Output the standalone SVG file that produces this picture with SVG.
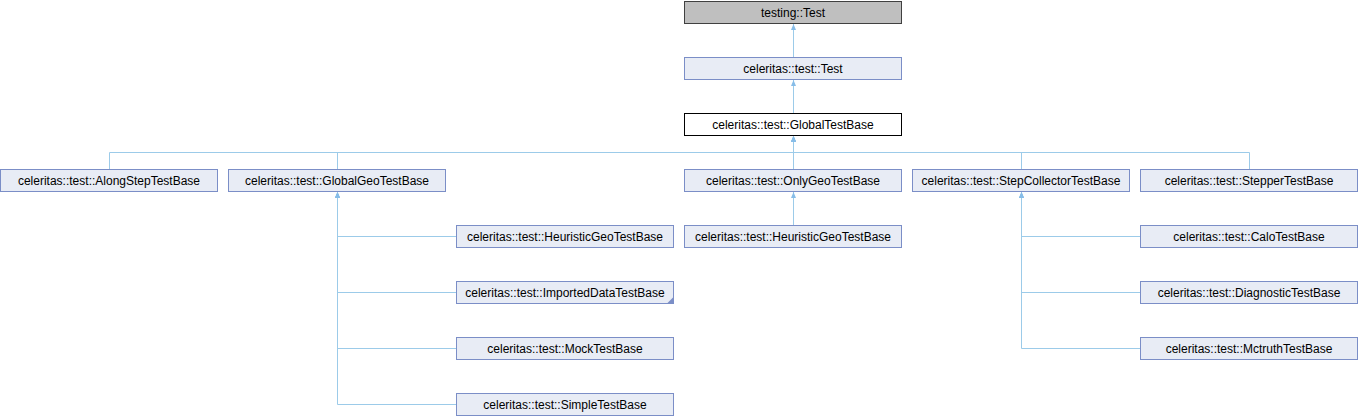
<svg xmlns="http://www.w3.org/2000/svg" width="1358" height="416" viewBox="0 0 1358 416">
<style>
.n rect{fill:#e8ecf5;stroke:#7b8ec7;stroke-width:1}
.n text{font-family:"Liberation Sans",Arial,sans-serif;font-size:12px;fill:#000;text-anchor:middle}
.root rect{fill:#bfbfbf;stroke:#404040}
.cur rect{fill:#ffffff;stroke:#000000}
.e path{fill:none;stroke:#9ccbe9;stroke-width:1}
</style>
<defs>
<marker id="ah" markerUnits="userSpaceOnUse" viewBox="0 0 6 6" markerWidth="6" markerHeight="6" refX="6" refY="3" orient="auto">
<path d="M0,0.5 L6,3 L0,5.5 z" fill="#87bde8"/>
</marker>
</defs>
<g id="connectors" class="e">
<path d="M793.5,57.5 V24" marker-end="url(#ah)"/>
<path d="M793.5,113.5 V80" marker-end="url(#ah)"/>
<path d="M109.5,169.5 V152.5 H793.5 V136" marker-end="url(#ah)"/>
<path d="M337.5,169.5 V152.5 H793.5 V136" marker-end="url(#ah)"/>
<path d="M793.5,169.5 V136" marker-end="url(#ah)"/>
<path d="M1021.5,169.5 V152.5 H793.5 V136" marker-end="url(#ah)"/>
<path d="M1249.5,169.5 V152.5 H793.5 V136" marker-end="url(#ah)"/>
<path d="M456.5,236.5 H337.5 V192" marker-end="url(#ah)"/>
<path d="M456.5,292.5 H337.5 V192" marker-end="url(#ah)"/>
<path d="M456.5,348.5 H337.5 V192" marker-end="url(#ah)"/>
<path d="M456.5,404.5 H337.5 V192" marker-end="url(#ah)"/>
<path d="M793.5,225.5 V192" marker-end="url(#ah)"/>
<path d="M1140.5,236.5 H1021.5 V192" marker-end="url(#ah)"/>
<path d="M1140.5,292.5 H1021.5 V192" marker-end="url(#ah)"/>
<path d="M1140.5,348.5 H1021.5 V192" marker-end="url(#ah)"/>
</g>
<g id="testing_Test" class="n root"><rect x="684.5" y="1.5" width="217" height="22"/><text x="793" y="16.5">testing::Test</text></g>
<g id="celeritas_test_Test" class="n"><rect x="684.5" y="57.5" width="217" height="22"/><text x="793" y="72.5">celeritas::test::Test</text></g>
<g id="GlobalTestBase" class="n cur"><rect x="684.5" y="113.5" width="217" height="22"/><text x="793" y="128.5">celeritas::test::GlobalTestBase</text></g>
<g id="AlongStepTestBase" class="n"><rect x="0.5" y="169.5" width="217" height="22"/><text x="109" y="184.5">celeritas::test::AlongStepTestBase</text></g>
<g id="GlobalGeoTestBase" class="n"><rect x="228.5" y="169.5" width="217" height="22"/><text x="337" y="184.5">celeritas::test::GlobalGeoTestBase</text></g>
<g id="OnlyGeoTestBase" class="n"><rect x="684.5" y="169.5" width="217" height="22"/><text x="793" y="184.5">celeritas::test::OnlyGeoTestBase</text></g>
<g id="StepCollectorTestBase" class="n"><rect x="912.5" y="169.5" width="217" height="22"/><text x="1021" y="184.5">celeritas::test::StepCollectorTestBase</text></g>
<g id="StepperTestBase" class="n"><rect x="1140.5" y="169.5" width="217" height="22"/><text x="1249" y="184.5">celeritas::test::StepperTestBase</text></g>
<g id="HeuristicGeoTestBase1" class="n"><rect x="456.5" y="225.5" width="217" height="22"/><text x="565" y="240.5">celeritas::test::HeuristicGeoTestBase</text></g>
<g id="HeuristicGeoTestBase2" class="n"><rect x="684.5" y="225.5" width="217" height="22"/><text x="793" y="240.5">celeritas::test::HeuristicGeoTestBase</text></g>
<g id="CaloTestBase" class="n"><rect x="1140.5" y="225.5" width="217" height="22"/><text x="1249" y="240.5">celeritas::test::CaloTestBase</text></g>
<g id="ImportedDataTestBase" class="n"><rect x="456.5" y="281.5" width="217" height="22"/><polygon points="667,303.5 673.5,303.5 673.5,297" fill="#7b8ec7"/><text x="565" y="296.5">celeritas::test::ImportedDataTestBase</text></g>
<g id="DiagnosticTestBase" class="n"><rect x="1140.5" y="281.5" width="217" height="22"/><text x="1249" y="296.5">celeritas::test::DiagnosticTestBase</text></g>
<g id="MockTestBase" class="n"><rect x="456.5" y="337.5" width="217" height="22"/><text x="565" y="352.5">celeritas::test::MockTestBase</text></g>
<g id="MctruthTestBase" class="n"><rect x="1140.5" y="337.5" width="217" height="22"/><text x="1249" y="352.5">celeritas::test::MctruthTestBase</text></g>
<g id="SimpleTestBase" class="n"><rect x="456.5" y="393.5" width="217" height="22"/><text x="565" y="408.5">celeritas::test::SimpleTestBase</text></g>
</svg>
